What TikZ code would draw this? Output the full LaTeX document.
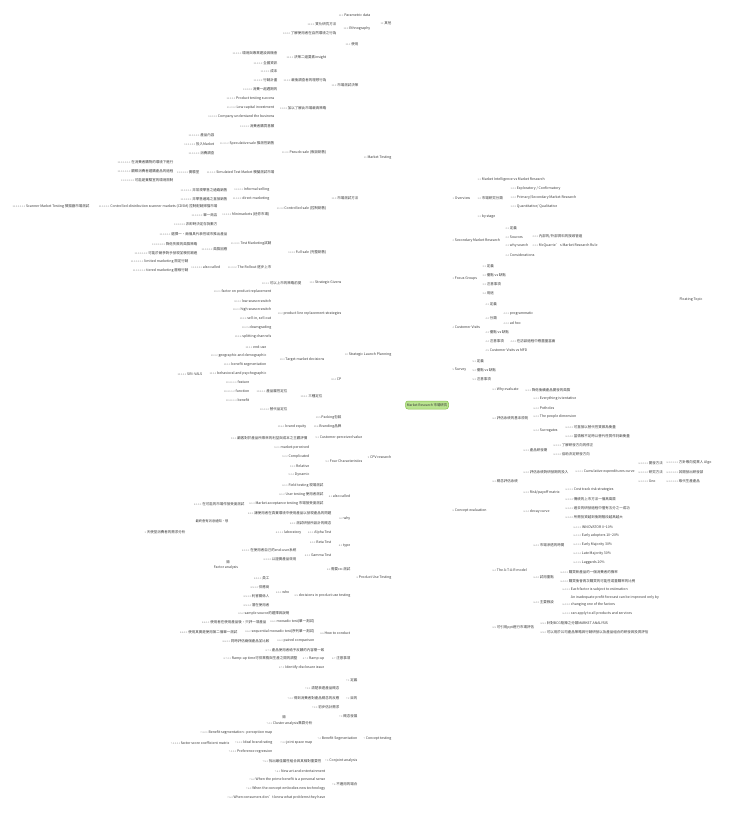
\documentclass[tikz,border=0pt]{standalone}
\usepackage{fontspec}
\setmainfont{Noto Sans CJK TC}
\usetikzlibrary{calc,arrows.meta}
\definecolor{txc}{HTML}{3A3A3A}
\definecolor{nbc}{HTML}{8C8C8C}
\definecolor{lnc}{HTML}{C2C2C2}
\definecolor{rootf}{HTML}{B9E38F}
\definecolor{rootd}{HTML}{86BF4E}
\pgfdeclarelayer{bg}
\pgfsetlayers{bg,main}
\newcommand\tnum[1]{{\fontsize{2.4}{3}\selectfont\color{nbc}#1}\hspace{0.9pt}}
\newcommand\tpL[5]{\node[tx,anchor=south east] (#1) at (#2,#3+2) {\tnum{#4}#5};}
\newcommand\tpR[5]{\node[tx,anchor=south west] (#1) at (#2,#3+2) {\tnum{#4}#5};}
\newcommand\lkL[2]{\draw[cn] let \p1=(#1.south west), \p2=(#2.south east) in (\p1) .. controls ({0.5*\x1+0.5*\x2},\y1) and ({0.5*\x1+0.5*\x2},\y2) .. (\p2) -- (#2.south west);}
\newcommand\lkR[2]{\draw[cn] let \p1=(#1.south east), \p2=(#2.south west) in (\p1) .. controls ({0.5*\x1+0.5*\x2},\y1) and ({0.5*\x1+0.5*\x2},\y2) .. (\p2) -- (#2.south east);}
\newcommand\brL[1]{\draw[rc] let \p1=(R.center), \p2=(#1.south east) in (\p1) .. controls ({\x2+12},\y1) and ({\x2+12},\y2) .. (\p2) -- (#1.south west);}
\newcommand\brR[1]{\draw[rc] let \p1=(R.center), \p2=(#1.south west) in (\p1) .. controls ({\x2-12},\y1) and ({\x2-12},\y2) .. (\p2) -- (#1.south east);}
\newcommand\kidsL[2]{\foreach \kk in {#2}{\lkL{#1}{\kk}}}
\newcommand\kidsR[2]{\foreach \kk in {#2}{\lkR{#1}{\kk}}}
\tikzset{
  tx/.style={font=\fontsize{3.5}{4.2}\selectfont, text=txc, inner xsep=0.5pt, inner ysep=0.4pt, align=left},
  cn/.style={draw=lnc, line width=0.45pt},
  rc/.style={draw=lnc, line width=0.6pt},
  root/.style={draw=rootd, fill=rootf, rounded corners=2.5pt, minimum width=43pt, minimum height=8pt, inner sep=1pt, font=\fontsize{3.4}{4}\selectfont, text=txc, line width=0.5pt},
  rel/.style={draw=gray!75, dash pattern=on 1.2pt off 0.9pt, line width=0.4pt},
  lbl/.style={font=\fontsize{3.3}{4}\selectfont, text=txc, inner sep=0.4pt}
}
\begin{document}
\begin{tikzpicture}[x=1pt,y=-1pt]
\fill[white] (0,0) rectangle (728,813);
\useasboundingbox (0,0) rectangle (728,813);

\node[root] (R) at (427,405) {Market Research 市場研究};

% ---------- 12
\tpL{a12}{392}{23}{12}{其他}
\tpL{a121}{371}{15}{12.1}{Parametric data}
\tpL{a122}{371}{29}{12.2}{Ethnography}
\tpL{a1221}{337}{24}{12.2.1}{質化研究方法}
\tpL{a1222}{337}{33}{12.2.2}{了解使用者在自然環境之行為}
% ---------- 11
\tpL{b11}{392}{158}{11}{Market Testing}
\tpL{b111}{359}{44}{11.1}{使用}
\tpL{b112}{359}{85}{11.2}{市場測試決策}
\tpL{b1121}{327}{58}{11.2.1}{決策二道要素insight}
\tpL{b11211}{278}{53}{11.2.1.1}{環境與專業建設與機會}
\tpL{b11212}{278}{63}{11.2.1.2}{全國資訊}
\tpL{b1122}{327}{80}{11.2.2}{最後調查者的理想行為}
\tpL{b11221}{278}{71}{11.2.2.1}{成本}
\tpL{b11222}{278}{80}{11.2.2.2}{行銷計畫}
\tpL{b11223}{278}{89}{11.2.2.3}{消費一起週期的}
\tpL{b1123}{327}{108}{11.2.3}{加以了解此市場最高策略}
\tpL{b11231}{275}{99}{11.2.3.1}{Product testing success}
\tpL{b11232}{275}{108}{11.2.3.2}{Low capital investment}
\tpL{b11233}{275}{117}{11.2.3.3}{Company understand the business}
\tpL{b113}{359}{198}{11.3}{市場測試方法}
\tpL{b1131}{327}{153}{11.3.1}{Pseudo sale (假設銷售)}
\tpL{b11311}{275}{126}{11.3.1.1}{消費者購買意願}
\tpL{b11312}{275}{144}{11.3.1.2}{Speculative sale 推測性銷售}
\tpL{b113121}{215}{135}{11.3.1.2.1}{產品內容}
\tpL{b113122}{215}{144}{11.3.1.2.2}{投入Market}
\tpL{b113123}{215}{153}{11.3.1.2.3}{消費調查}
\tpL{b11313}{275}{172}{11.3.1.3}{Simulated Test Market 模擬測試市場}
\tpL{b113131}{200}{172}{11.3.1.3.1}{實驗室}
\tpL{b1131311}{174}{162}{11.3.1.3.1.1}{在消費者購物的環境下進行}
\tpL{b1131312}{174}{171}{11.3.1.3.1.2}{觀察消費者選購產品的過程}
\tpL{b1131313}{174}{180}{11.3.1.3.1.3}{可能是實驗室的環境限制}
\tpL{b1132}{327}{209}{11.3.2}{Controlled sale (控制銷售)}
\tpL{b11321}{270}{190}{11.3.2.1}{Informal selling}
\tpL{b113211}{228}{190}{11.3.2.1.1}{非常規零售之通路銷售}
\tpL{b11322}{270}{199}{11.3.2.2}{direct marketing}
\tpL{b113221}{228}{199}{11.3.2.2.1}{非零售通路之直接銷售}
\tpL{b11323}{270}{215}{11.3.2.3}{Minimarkets (迷你市場)}
\tpL{b113231}{218}{207}{11.3.2.3.1}{Controlled-distribution scanner markets (CDSM) 控制配銷掃描市場}
\tpL{b1132311}{90}{207}{11.3.2.3.1.1}{Scanner Market Testing 掃描器市場測試}
\tpL{b113232}{218}{215}{11.3.2.3.2}{單一商店}
\tpL{b113233}{218}{224}{11.3.2.3.3}{非即時決定存貨數方}
\tpL{b1133}{327}{253}{11.3.3}{Full sale (完整銷售)}
\tpL{b11331}{272}{244}{11.3.3.1}{Test Marketing試銷}
\tpL{b113311}{228}{234}{11.3.3.1.1}{選擇一、兩個具代表性城市推出產品}
\tpL{b113312}{228}{249}{11.3.3.1.2}{風險因應}
\tpL{b1133121}{198}{244}{11.3.3.1.2.1}{降低失敗的風險策略}
\tpL{b1133122}{198}{253}{11.3.3.1.2.2}{可能於競爭對手發現並模仿跟進}
\tpL{b11332}{272}{267}{11.3.3.2}{The Rollout 逐步上市}
\tpL{b113321}{221}{267}{11.3.3.2.1}{also called}
\tpL{b1133211}{189}{262}{11.3.3.2.1.1}{limited marketing 限定行銷}
\tpL{b1133212}{189}{271}{11.3.3.2.1.2}{tiered marketing 層級行銷}
% ---------- 10
\tpL{c10}{392}{355}{10}{Strategic Launch Planning}
\tpL{c101}{342}{283}{10.1}{Strategic Givens}
\tpL{c1011}{302}{283}{10.1.1}{可以上市的策略前提}
\tpL{c102}{342}{314}{10.2}{product line replacement strategies}
\tpL{c1021}{272}{292}{10.2.1}{factor on product replacement}
\tpL{c1022}{272}{301}{10.2.2}{low season switch}
\tpL{c1023}{272}{310}{10.2.3}{high season switch}
\tpL{c1024}{272}{319}{10.2.4}{sell-in, sell-out}
\tpL{c1025}{272}{328}{10.2.5}{downgrading}
\tpL{c1026}{272}{337}{10.2.6}{splitting channels}
\tpL{c103}{325}{360}{10.3}{Target market decisions}
\tpL{c1031}{267}{347}{10.3.1}{end-use}
\tpL{c1032}{267}{356}{10.3.2}{geographic and demographic}
\tpL{c1033}{267}{365}{10.3.3}{benefit segmentation}
\tpL{c1034}{267}{374}{10.3.4}{behavioral and psychographic}
\tpL{c10341}{203}{374}{10.3.4.1}{SRI: VALS}
\tpL{c104}{342}{379}{10.4}{CP}
\tpL{c1041}{323}{396}{10.4.1}{三種定位}
\tpL{c10411}{288}{391}{10.4.1.1}{產品屬性定位}
\tpL{c104111}{250}{382}{10.4.1.1.1}{feature}
\tpL{c104112}{250}{391}{10.4.1.1.2}{function}
\tpL{c104113}{250}{400}{10.4.1.1.3}{benefit}
\tpL{c10412}{288}{409}{10.4.1.2}{替代品定位}
\tpL{c105}{342}{418}{10.5}{Packing包裝}
\tpL{c106}{342}{427}{10.6}{Branding品牌}
\tpL{c1061}{307}{427}{10.6.1}{brand equity}
% ---------- 9
\tpL{d9}{392}{457}{9}{CPV research}
\tpL{d91}{363}{438}{9.1}{Customer-perceived value}
\tpL{d911}{308}{438}{9.1.1}{顧客對於產品所帶來的利益與成本之主觀評價}
\tpL{d92}{363}{461}{9.2}{Four Characteristics}
\tpL{d921}{310}{448}{9.2.1}{market-perceived}
\tpL{d922}{310}{457}{9.2.2}{Complicated}
\tpL{d923}{310}{466}{9.2.3}{Relative}
\tpL{d924}{310}{475}{9.2.4}{Dynamic}
% ---------- 8
\tpL{e8}{392}{578}{8}{Product Use Testing}
\tpL{e81}{351}{496}{8.1}{also called}
\tpL{e811}{324}{486}{8.1.1}{Field testing 現場測試}
\tpL{e812}{324}{495}{8.1.2}{User testing 使用者測試}
\tpL{e813}{324}{504}{8.1.3}{Market acceptance testing 市場接受度測試}
\tpL{e8131}{245}{504}{8.1.3.1}{在可能的市場作接受度測試}
\tpL{e82}{351}{519}{8.2}{why}
\tpL{e821}{332}{513}{8.2.1}{讓使用者在真實環境中使用產品以發現產品的問題}
\tpL{e822}{332}{523}{8.2.2}{測試研發所設計的概念}
\tpL{e83}{351}{546}{8.3}{type}
\tpL{e831}{332}{533}{8.3.1}{Alpha Test}
\tpL{e8311}{302}{533}{8.3.1.1}{laboratory}
\tpL{e832}{332}{542}{8.3.2}{Beta Test}
\tpL{e833}{332}{555}{8.3.3}{Gamma Test}
\tpL{e8331}{297}{550}{8.3.3.1}{在使用者自己的end-user系統}
\tpL{e8332}{297}{559}{8.3.3.2}{以證實產品效用}
\tpL{e84}{351}{569}{8.4}{需要co-測試}
\tpL{e85}{351}{596}{8.5}{decisions in product use testing}
\tpL{e851}{290}{592}{8.5.1}{who}
\tpL{e8511}{270}{578}{8.5.1.1}{員工}
\tpL{e8512}{270}{587}{8.5.1.2}{供應商}
\tpL{e8513}{270}{596}{8.5.1.3}{利害關係人}
\tpL{e8514}{270}{605}{8.5.1.4}{潛在使用者}
\tpL{e852}{290}{614}{8.5.2}{sample source的選擇與說明}
\tpL{e86}{351}{633}{8.6}{How to conduct}
\tpL{e861}{315}{622}{8.6.1}{monadic test(單一測試)}
\tpL{e8611}{267}{622}{8.6.1.1}{使用者在使用產品後，只評一項產品}
\tpL{e862}{315}{632}{8.6.2}{sequential monadic test(序列單一測試)}
\tpL{e8621}{238}{632}{8.6.2.1}{使用其實是使用第二個單一測試}
\tpL{e863}{315}{641}{8.6.3}{paired comparison}
\tpL{e8631}{270}{641}{8.6.3.1}{同時評估兩個產品並比較}
\tpL{e87}{351}{658}{8.7}{注意事項}
\tpL{e871}{325}{650}{8.7.1}{產品使用者給予反饋的內容需一致}
\tpL{e872}{325}{659}{8.7.2}{Ramp-up}
\tpL{e8721}{298}{659}{8.7.2.1}{Ramp-up time可供業務與生產之間的調整}
\tpL{e873}{325}{668}{8.7.3}{Identify disclosure issue}
% ---------- 7
\tpL{f7}{392}{739}{7}{Concept testing}
\tpL{f71}{358}{680}{7.1}{定義}
\tpL{f72}{358}{698}{7.2}{目的}
\tpL{f721}{340}{688}{7.2.1}{清楚表達產品概念}
\tpL{f722}{340}{698}{7.2.2}{得到消費者對產品概念的反應}
\tpL{f723}{340}{707}{7.2.3}{初步估計需求}
\tpL{f73}{358}{716}{7.3}{概念發展}
\tpL{f74}{358}{739}{7.4}{Benefit Segmentation}
\tpL{f741}{313}{724}{7.4.1}{Cluster analysis集群分析}
\tpL{f742}{313}{743}{7.4.2}{joint space map}
\tpL{f7421}{273}{733}{7.4.2.1}{Benefit segmentation - perception map}
\tpL{f7422}{273}{743}{7.4.2.2}{Ideal brand rating}
\tpL{f74221}{230}{743}{7.4.2.2.1}{factor score coefficient matrix}
\tpL{f7423}{273}{752}{7.4.2.3}{Preference regression}
\tpL{f75}{358}{761}{7.5}{Conjoint analysis}
\tpL{f751}{322}{761}{7.5.1}{找出最佳屬性組合與其相對重要性}
\tpL{f76}{358}{784}{7.6}{不適用的場合}
\tpL{f761}{326}{771}{7.6.1}{New art and entertainment}
\tpL{f762}{326}{780}{7.6.2}{When the prime benefit is a personal sense}
\tpL{f763}{326}{789}{7.6.3}{When the concept embodies new technology}
\tpL{f764}{326}{798}{7.6.4}{When consumers don't know what problems they have}

% ---------- right 1
\tpR{g1}{452}{198}{1}{Overview}
\tpR{g11}{477}{180}{1.1}{Market Intelligence vs Market Research}
\tpR{g12}{477}{198}{1.2}{市場研究分類}
\tpR{g121}{510}{189}{1.2.1}{Exploratory / Confirmatory}
\tpR{g122}{510}{198}{1.2.2}{Primary/Secondary Market Research}
\tpR{g123}{510}{207}{1.2.3}{Quantitative/ Qualitative}
\tpR{g13}{477}{217}{1.3}{by stage}
% 2
\tpR{h2}{452}{241}{2}{Secondary Market Research}
\tpR{h21}{505}{228}{2.1}{定義}
\tpR{h22}{505}{237}{2.2}{Sources}
\tpR{h221}{532}{237}{2.2.1}{內部的/外部資料的搜尋管道}
\tpR{h23}{505}{246}{2.3}{why search}
\tpR{h231}{532}{246}{2.3.1}{McQuarrie’ s Market Research Rule}
\tpR{h24}{505}{255}{2.4}{Considerations}
% 3
\tpR{i3}{452}{279}{3}{Focus Groups}
\tpR{i31}{482}{266}{3.1}{定義}
\tpR{i32}{482}{275}{3.2}{優點 vs 缺點}
\tpR{i33}{482}{284}{3.3}{注意事項}
\tpR{i34}{482}{293}{3.4}{用途}
% 4
\tpR{j4}{452}{327}{4}{Customer Visits}
\tpR{j41}{485}{304}{4.1}{定義}
\tpR{j42}{485}{318}{4.2}{分類}
\tpR{j421}{503}{314}{4.2.1}{programmatic}
\tpR{j422}{503}{323}{4.2.2}{ad hoc}
\tpR{j43}{485}{332}{4.3}{優點 vs 缺點}
\tpR{j44}{485}{341}{4.4}{注意事項}
\tpR{j441}{510}{341}{4.4.1}{在訪談過程中應盡量當面}
\tpR{j45}{485}{350}{4.5}{Customer Visits vs MFD}
% 5
\tpR{k5}{452}{370}{5}{Survey}
\tpR{k51}{472}{361}{5.1}{定義}
\tpR{k52}{472}{370}{5.2}{優點 vs 缺點}
\tpR{k53}{472}{379}{5.3}{注意事項}
% 6
\tpR{m6}{452}{511}{6}{Concept evaluation}
\tpR{m61}{492}{390}{6.1}{Why evaluate}
\tpR{m611}{525}{390}{6.1.1}{降低後續產品開發的風險}
\tpR{m62}{492}{418}{6.2}{評估系統的基本原則}
\tpR{m621}{533}{399}{6.2.1}{Everything is tentative}
\tpR{m622}{533}{408}{6.2.2}{Potholes}
\tpR{m623}{533}{417}{6.2.3}{The people dimension}
\tpR{m624}{533}{431}{6.2.4}{Surrogates}
\tpR{m6241}{565}{427}{6.2.4.1}{可直接以替代性質做為衡量}
\tpR{m6242}{565}{436}{6.2.4.2}{當情報不足時以替代性質作判斷衡量}
\tpR{m63}{492}{481}{6.3}{概念評估系統}
\tpR{m631}{523}{450}{6.3.1}{產品研發期}
\tpR{m6311}{553}{445}{6.3.1.1}{了解研發方向的修正}
\tpR{m6312}{553}{454}{6.3.1.2}{協助決定研發方向}
\tpR{m632}{523}{472}{6.3.2}{評估系統對研發期的投入}
\tpR{m6321}{575}{472}{6.3.2.1}{Cumulative expenditures curve}
\tpR{m63211}{638}{463}{6.3.2.1.1}{開發方法}
\tpR{m632111}{666}{463}{6.3.2.1.1.1}{方針導向從業人 Algo}
\tpR{m63212}{638}{472}{6.3.2.1.2}{研究方法}
\tpR{m632121}{666}{472}{6.3.2.1.2.1}{其開發出研發部}
\tpR{m63213}{638}{481}{6.3.2.1.3}{Gno}
\tpR{m632131}{666}{481}{6.3.2.1.3.1}{取代生產產品}
\tpR{m633}{523}{493}{6.3.3}{Risk/payoff matrix}
\tpR{m6331}{565}{490}{6.3.3.1}{Cost track risk strategies}
\tpR{m6332}{565}{499}{6.3.3.2}{傳統的上市方法一個高風險}
\tpR{m634}{523}{512}{6.3.4}{decay curve}
\tpR{m6341}{565}{508}{6.3.4.1}{過去的研發過程中僅有五分之一成功}
\tpR{m6342}{565}{517}{6.3.4.2}{所需投資越到後期階段越高越大}
\tpR{m64}{492}{570}{6.4}{The A-T-A-R model}
\tpR{m641}{533}{545}{6.4.1}{市場滲透的時間}
\tpR{m6411}{573}{527}{6.4.1.1}{INNOVATOR 0\textasciitilde10\%}
\tpR{m6412}{573}{536}{6.4.1.2}{Early adopters 10\textasciitilde20\%}
\tpR{m6413}{573}{545}{6.4.1.3}{Early Majority 30\%}
\tpR{m6414}{573}{554}{6.4.1.4}{Late Majority 30\%}
\tpR{m6415}{573}{563}{6.4.1.5}{Laggards 20\%}
\tpR{m642}{533}{577}{6.4.2}{試用重點}
\tpR{m6421}{560}{572}{6.4.2.1}{購買新產品的一個消費者的機率}
\tpR{m6422}{560}{581}{6.4.2.2}{購買後會再次購買的可能性或重購率的比例}
\tpR{m643}{533}{602}{6.4.3}{主要假設}
\tpR{m6431}{562}{590}{6.4.3.1}{Each factor is subject to estimation}
\tpR{m6432}{562}{605}{6.4.3.2}{\shortstack[l]{An inadequate profit forecast can be improved only by\\changing one of the factors}}
\tpR{m6433}{562}{614}{6.4.3.3}{can apply to all products and services}
\tpR{m65}{492}{628}{6.5}{可引用ppt進行市場評估}
\tpR{m651}{540}{623}{6.5.1}{針對BCG矩陣之分類MARKET ANALYSIS}
\tpR{m652}{540}{632}{6.5.2}{可以用於公司產品策略與行銷研發以及產品組合的研發與投資評估}

% floating items
\node[tx] (flt) at (691,300) {Floating Topic};
\node[tx,anchor=south east] (fl1) at (186,534) {\tnum{1}天使型消費者的需求分析};
\node[lbl] (rl1) at (212,521) {最終會有消息通知‧想};
\node[tx] (fa) at (226,568) {Factor analysis};
\node[lbl] (fak) at (228,562) {關};
\node[lbl] (fak2) at (284,717) {關};

\begin{pgfonlayer}{bg}
\brL{a12}\brL{b11}\brL{c10}\brL{d9}\brL{e8}\brL{f7}
\brR{g1}\brR{h2}\brR{i3}\brR{j4}\brR{k5}\brR{m6}
% 12
\kidsL{a12}{a121,a122}
\kidsL{a122}{a1221,a1222}
% 11
\kidsL{b11}{b111,b112,b113}
\kidsL{b112}{b1121,b1122,b1123}
\kidsL{b1121}{b11211,b11212}
\kidsL{b1122}{b11221,b11222,b11223}
\kidsL{b1123}{b11231,b11232,b11233}
\kidsL{b113}{b1131,b1132,b1133}
\kidsL{b1131}{b11311,b11312,b11313}
\kidsL{b11312}{b113121,b113122,b113123}
\kidsL{b11313}{b113131}
\kidsL{b113131}{b1131311,b1131312,b1131313}
\kidsL{b1132}{b11321,b11322,b11323}
\kidsL{b11321}{b113211}
\kidsL{b11322}{b113221}
\kidsL{b11323}{b113231,b113232,b113233}
\kidsL{b113231}{b1132311}
\kidsL{b1133}{b11331,b11332}
\kidsL{b11331}{b113311,b113312}
\kidsL{b113312}{b1133121,b1133122}
\kidsL{b11332}{b113321}
\kidsL{b113321}{b1133211,b1133212}
% 10
\kidsL{c10}{c101,c102,c103,c104,c105,c106}
\kidsL{c101}{c1011}
\kidsL{c102}{c1021,c1022,c1023,c1024,c1025,c1026}
\kidsL{c103}{c1031,c1032,c1033,c1034}
\kidsL{c1034}{c10341}
\kidsL{c104}{c1041}
\kidsL{c1041}{c10411,c10412}
\kidsL{c10411}{c104111,c104112,c104113}
\kidsL{c106}{c1061}
% 9
\kidsL{d9}{d91,d92}
\kidsL{d91}{d911}
\kidsL{d92}{d921,d922,d923,d924}
% 8
\kidsL{e8}{e81,e82,e83,e84,e85,e86,e87}
\kidsL{e81}{e811,e812,e813}
\kidsL{e813}{e8131}
\kidsL{e82}{e821,e822}
\kidsL{e83}{e831,e832,e833}
\kidsL{e831}{e8311}
\kidsL{e833}{e8331,e8332}
\kidsL{e85}{e851,e852}
\kidsL{e851}{e8511,e8512,e8513,e8514}
\kidsL{e86}{e861,e862,e863}
\kidsL{e861}{e8611}
\kidsL{e862}{e8621}
\kidsL{e863}{e8631}
\kidsL{e87}{e871,e872,e873}
\kidsL{e872}{e8721}
% 7
\kidsL{f7}{f71,f72,f73,f74,f75,f76}
\kidsL{f72}{f721,f722,f723}
\kidsL{f74}{f741,f742}
\kidsL{f742}{f7421,f7422,f7423}
\kidsL{f7422}{f74221}
\kidsL{f75}{f751}
\kidsL{f76}{f761,f762,f763,f764}
% right
\kidsR{g1}{g11,g12,g13}
\kidsR{g12}{g121,g122,g123}
\kidsR{h2}{h21,h22,h23,h24}
\kidsR{h22}{h221}
\kidsR{h23}{h231}
\kidsR{i3}{i31,i32,i33,i34}
\kidsR{j4}{j41,j42,j43,j44,j45}
\kidsR{j42}{j421,j422}
\kidsR{j44}{j441}
\kidsR{k5}{k51,k52,k53}
\kidsR{m6}{m61,m62,m63,m64,m65}
\kidsR{m61}{m611}
\kidsR{m62}{m621,m622,m623,m624}
\kidsR{m624}{m6241,m6242}
\kidsR{m63}{m631,m632,m633,m634}
\kidsR{m631}{m6311,m6312}
\kidsR{m632}{m6321}
\kidsR{m6321}{m63211,m63212,m63213}
\kidsR{m63211}{m632111}
\kidsR{m63212}{m632121}
\kidsR{m63213}{m632131}
\kidsR{m633}{m6331,m6332}
\kidsR{m634}{m6341,m6342}
\kidsR{m64}{m641,m642,m643}
\kidsR{m641}{m6411,m6412,m6413,m6414,m6415}
\kidsR{m642}{m6421,m6422}
\kidsR{m643}{m6431,m6432,m6433}
\kidsR{m65}{m651,m652}
% floating underline
\draw[cn] (fl1.south west) -- (fl1.south east);
% relationships
\draw[rel,-{Stealth[length=2.2pt,width=1.8pt]}] (d924.north) .. controls (352,452) and (354,366) .. (c103.east);
\draw[rel] (e821.south west) .. controls (240,513) and (232,518) .. (rl1.east);
\draw[rel] (rl1.west) .. controls (192,522) and (192,530) .. (fl1.east);
\draw[rel] (fa.south east) .. controls (242,625) and (262,690) .. ([xshift=12pt]f741.north west);
\end{pgfonlayer}
\end{tikzpicture}
\end{document}
